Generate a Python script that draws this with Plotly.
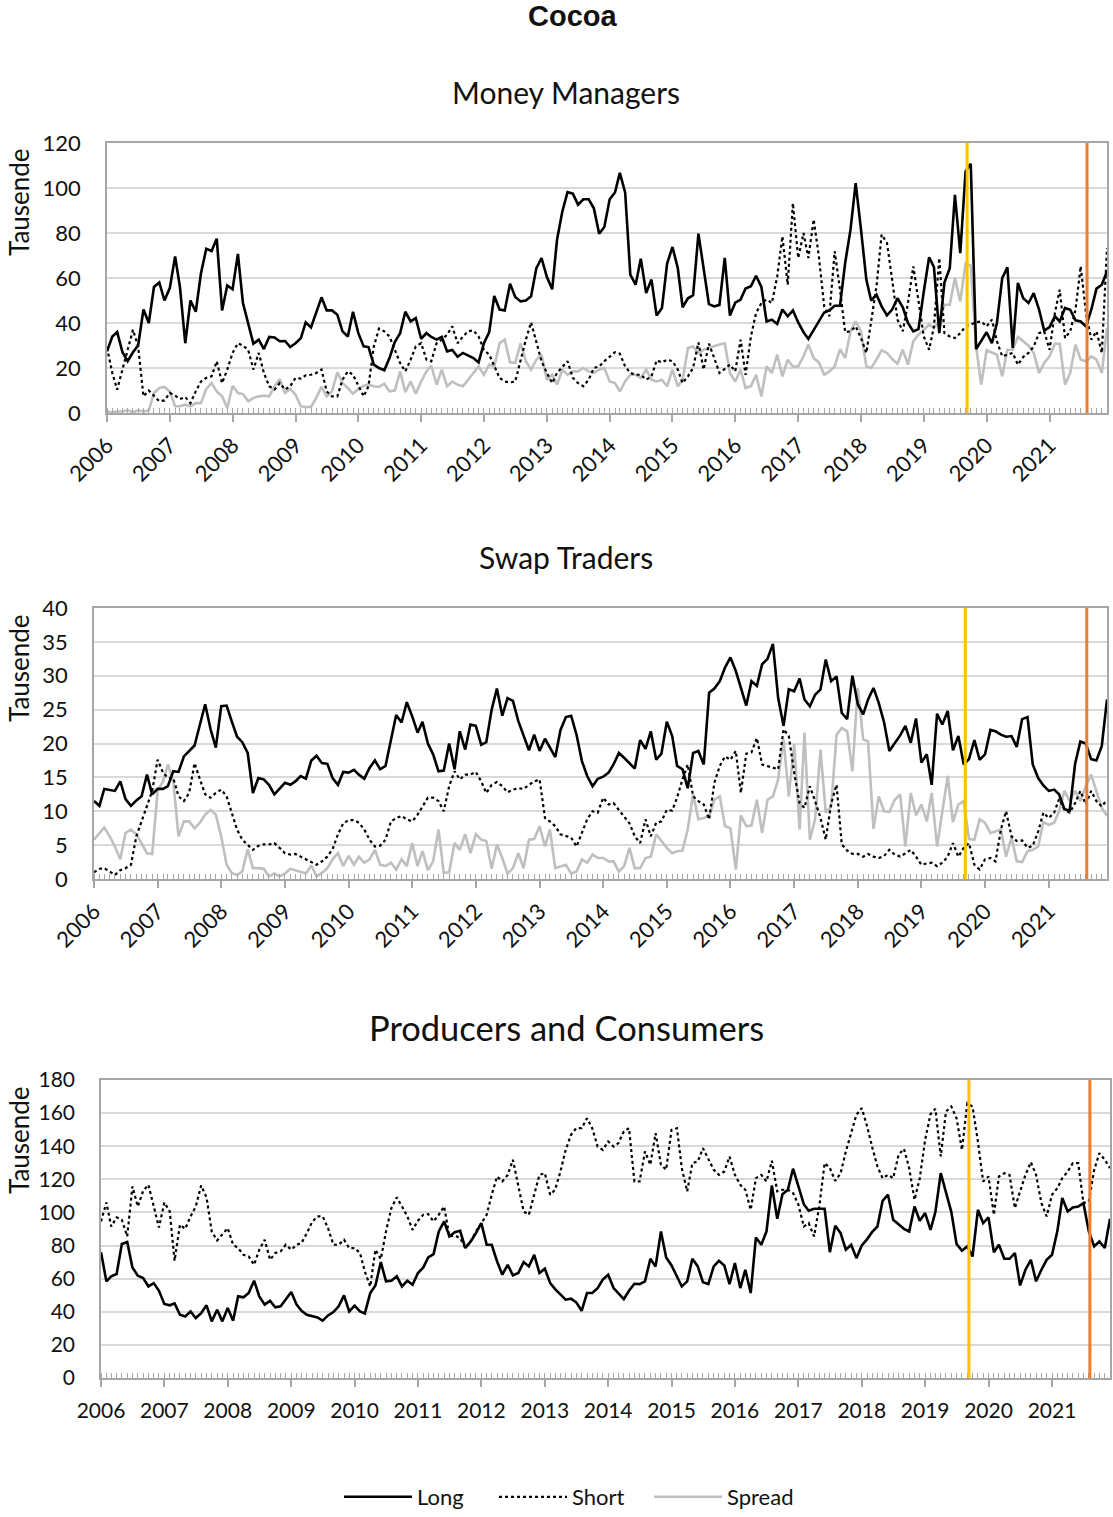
import pandas as pd
import plotly.graph_objects as go

# ---------------- data (monthly, Jan 2006 - Dec 2021), thousands of contracts ----------------
months = pd.date_range("2006-01-01", periods=192, freq="MS")

mm_long = [27.4,34,36,27,23,27,30,46,40,56, 58,50,55.5,69.6,56,31,50,45,62,73,
           72,77.5,45.6,56.7,55,70.7,49,40,30.8,32.6, 28.4,33.8,33.6,31.9,32,29.3,31,33.3,40.3,38,
           44.4,51.4,45.6,45.6,43.7,36.3,34,45,35.5,29.6, 29.3,21.5,20,19,24.4,31.5,35.5,45,40.7,42.2,
           33,35.5,33.8,32.6,
           33.8,27.4,28,25,26.7,25.5,24.4,22.5,31,36, 52,46,45.6,57.5,51.6,49.6,50,51.9,64.4,68.9,
           60.4,55,77,89.6,98.2,97.5,92.6,95,95,91, 79.7,82.7,95,98,106.7,98,61.5,57,68.6,53.3,
           59.3,43.3,46.7,66.4,73.8,64.4,47,51,52.3,79.7, 63.7,48.4,47.4,48,68.9,43.3,49,50.4,55.3,56.3,
           61,56,40.7,
           41.5,39.6,46,43,45.6,40.3,35.9,32.9,37,41, 44.7,45.6,47.7,47.7,66.7,81.5,102.2,81.5,59.3,50,
           52.6,47.4,43.4,46,51,47,40,36.3,37.3,54, 69.2,64.9,35.5,58,64.4,97,71,107.4,110.8,28.4,
           31.9,35.9,31,40,60,64.7,28.9,57.8,51,48.9, 53.3,46,36.6,38.2,43,40.7,46.7,45.9,41.2,40.7,
           38.5,46,55.3,57,63]

mm_short = [29,17.8,10.4,19.3,29,37,29.6,7.4,10,7.4, 5.2,5.6,8.9,7.7,6.2,7.1,4.4,9.6,14,15.6,
            16.3,23,13.3,19.3,26.7,31,30,28,19.3,26.7, 17.8,11.9,10.4,13.3,10.4,11.9,15.6,15.3,16.7,17,
            17.8,19.3,9.6,7.4,7.4,14.8,18.5,17,11.9,7.4, 11.9,29.6,37.5,36.3,34,28,22.2,18.5,23.7,29.6,
            31,23.7,23,31,
            32.6,34.8,38.5,31,34,36.3,36.7,34,28.1,25.9, 20.7,15.6,14,13.6,14,23.7,32.6,40.3,31,23,
            17.8,13.3,17.8,20.7,23,15.6,13.3,11.9,14.8,20, 20.7,23,25.2,27,26.4,20.7,17.8,17,17,14.8,
            16.3,23.4,22.5,23.7,23,19.3,13.3,16.3,20,31.4, 19.3,30.8,24.4,17.8,19.6,21.5,18.5,32.6,17,34,
            44.4,48.9,50.4,
            48.9,60.7,78.5,57,93.3,68.9,80,68.9,86,69.6, 47.4,43,71.9,54.8,35.9,36.3,38.5,33.3,26.7,40.7,
            56.3,79.3,75.6,59.3,41.5,36.3,48.9,65.2,48.9,34, 28.1,38.5,68.9,35.5,34,33.3,35.5,38.5,39.3,40.3,
            40.7,38.5,41.5,31.9,25.2,25.9,26.7,21.5,24.9,26.7, 29.6,35.5,36.3,28.1,44.4,54.8,33.3,36.3,45.9,65.2,
            44.4,32.6,36.3,26.7,73.3]

mm_spread = [0.7,0.3,0.7,0.7,1.2,0.3,1.2,0.7,1.2,8.9, 11.1,11.6,9.6,3,3,3.7,3,4.4,4.4,10.7,
             13.3,9.6,7.4,2.2,12.1,8.9,8.4,5.2,6.7,7.4, 7.7,7.4,11.9,15.1,8.9,10.7,8.1,3,2.7,2.7,
             6.7,11.6,7.4,9.6,18.1,13.3,11.1,8.6,10.7,12.1, 12.6,11.9,11.6,13,9.6,10,18.5,9.3,14,8.6,
             14,18.5,21,12.6,
             19.3,11.9,14,12.6,11.9,14.8,17.8,20.7,17,21.5, 20.7,31,32.6,22.5,22.2,31,23,19.3,23.7,25.9,
             14.8,17,12.6,19.3,17,18.5,18.5,20,18.5,17.8, 19.3,20,14,13.3,9.6,14,17,17,15.6,19.3,
             14.8,14,14.8,11.9,19.3,11.9,14.8,28.9,29.6,26.7, 28.1,28.9,29.9,30.4,31,17.8,14,19.3,11.1,11.9,
             17,7.4,20.7,
             17.8,25.9,16.3,23.7,20.7,20.7,25.2,30.4,24.4,22.5, 17,18.5,20.7,28.4,24.4,36.3,40.7,36.3,20.7,20,
             23.7,27.9,26.7,24,21.9,28.1,21.5,31.9,34.8,37, 39.3,37.8,40.7,48.1,48.1,60,49.6,66.4,65.5,29.6,
             12.6,27.9,27,25.9,16.3,28.1,28.1,33.8,31.9,29.9, 26.7,17.8,22.2,25.2,30.8,30.8,12.6,17.8,30.4,23.7,
             23,25.2,23.7,17.8,37.8]

st_long = [11.5,10.8,13.3,13.1,13,14.4,11.8,10.8,11.6,12.2, 15.4,12.5,13.3,13.3,13.7,15.9,15.8,18.1,18.9,19.7,
           22.8,25.8,22.1,19.4,25.5,25.6,23.3,21,20.2,18.6, 12.7,14.9,14.7,13.9,12.5,13.4,14.2,13.9,14.4,15.2,
           14.8,17.5,18.2,17.1,17,14.9,13.9,15.8,15.7,16.1, 15.4,14.8,16.4,17.5,16.2,16.7,20.3,24.2,23.1,26.1,
           24,21.6,23.2,20,
           18.4,15.9,16,20,16.2,21.8,19.1,22.8,22.6,19.8, 20.2,25,28.1,24.1,26.7,26.3,23.3,21.1,19,21.3,
           18.9,20.7,19.4,18,22,23.9,24.1,21.3,17.4,15.2, 13.7,14.8,15.1,15.7,16.9,18.6,17.9,17,16.3,20.5,
           19.2,21.8,17.6,18.5,23.2,21.1,16.7,16.2,13.4,18.6, 18.9,16.9,27.5,28.1,29.2,31.2,32.7,30.7,28.2,25.6,
           29.2,28.5,31.7,
           32.5,34.7,26.7,22.6,28,27.7,29.6,26.5,25.5,27.2, 28,32.4,29.2,29.9,24.5,23.6,30,25.8,24.3,26.5,
           28.2,26,23.1,18.9,20.1,21.2,22.6,20.1,23.7,17.2, 18.4,13.9,24.4,22.8,24.8,19,21.1,16.9,17.7,20.5,
           17.6,18.4,22,21.8,21.3,21,21.1,19.5,23.6,23.9, 16.9,14.9,13.8,13,13.2,12.5,10.3,10.1,17,20.3,
           20,17.7,17.5,19.6,26.5]

st_short = [1,1.5,1.6,1.1,0.6,1.3,1.6,2.1,6.3,8.5, 10.7,13,17.6,15.7,14.9,14.9,12.2,11.5,12.7,17.1,
            14.7,12.5,12,12.7,13.2,12.2,9.8,7.3,5.8,5.1, 4.3,4.9,5.1,5.1,5.3,4.6,3.8,3.6,3.7,3.3,
            2.9,2.4,2.1,2.6,3.3,4.4,6.6,8.2,8.7,8.7, 8.3,7.3,5.8,4.8,4.9,5.8,8.5,9,9.3,8.8,
            8.5,9.5,10.7,12,
            12,11.5,10,13.7,15.9,14.7,15.4,15.4,15.8,14.4, 12.7,13.9,14.3,13.7,12.8,13.2,13.4,13.3,13.9,14.4,
            14.7,9,8.5,7.8,6.6,6.3,6.1,4.8,6.8,8.8, 10,9.8,12,11,11.2,10.2,9.3,8.2,6.3,5.3,
            8.8,6.3,8.3,8.5,10.2,10.1,12,14.7,16.9,12.2, 11.5,11,8.8,14.2,16.7,18.1,17.6,18.9,12.7,18.5,
            18.7,20.8,16.9,
            16.7,16.4,16.2,22.1,21.1,15.7,11.2,10.5,13.7,11.5, 9,5.8,11.1,13.9,5.1,4.2,3.7,3.7,3.3,3.7,
            3.3,3.1,3.4,4.3,3.6,3.3,3.8,4.3,3.3,2.1, 2.3,2.4,1.9,2.4,3.3,5.3,3.3,4.6,5.3,2.1,
            1.4,2.9,3.1,2.6,7.3,10,6.3,5.6,5.7,4.6, 4.9,7,9.8,9,9.8,11.8,10.2,9.8,11.2,13,
            11,13,11.5,10.7,11.7]

st_spread = [5.8,6.8,7.6,6.3,4.8,2.9,6.8,7.3,6.6,5.3, 3.8,3.7,13,14.4,16.9,14.4,6.3,8.5,8.5,7.5,
             8.3,9.5,10.2,9.5,6.3,2.1,0.9,0.6,1.1,4.4, 1.6,1.6,1.5,0.4,0.8,0.4,0.8,1.5,1.3,1,
             0.8,2,0.4,0.9,1.6,2.9,3.8,1.9,3.4,2.1, 3.3,2.4,2.9,4.3,2.1,1.9,2.4,1.4,2.9,1.9,
             5.3,1.9,4.1,1.3,
             2.6,7.3,0.9,1,5.3,4.3,6.6,3.8,6.6,5.8, 5.6,1.5,5.1,3.1,0.8,1.6,3.8,1.6,5.8,5.9,
             7.8,4.8,7.3,1.6,1.9,2.1,0.8,1.1,2.9,2.4, 3.6,3.1,3.1,2.6,2.6,1.1,1.9,4.6,1.6,1.6,
             3.1,3.3,6.6,5.6,4.6,3.8,4.1,4.2,7.3,12.5, 8.8,9,9.3,11.7,12.2,7.8,7.5,1.4,9.4,7.8,
             7.9,11.7,6.8,
             11.7,12.2,14.7,20.6,12.2,19.9,7.3,21.6,5.8,8.8, 19.1,9.8,10.7,21.3,22.3,21.8,15.9,28.2,20.6,20.3,
             7.4,12.2,10,9.9,11.7,12.5,4.8,12.7,9.4,11, 8.5,12.7,4.8,10.2,15.2,8.4,11,11.5,5.9,5.8,
             8.8,8.3,6.8,7,7.3,3.3,6.2,2.6,2.5,4.1, 4.3,4.8,8.4,8,8.3,10,13,11.5,13,11.5,
             13.7,15.4,13,10.5,9.3]

pc_long = [76,58.4,61.4,62.8,80.9,82.1,66.8,61.8,60.4,55.3, 57.3,52.7,44.7,43.9,45.1,38.2,37.2,40.2,36.2,39.2,
           43.9,34.2,41.2,34.2,42.3,34.6,49.3,48.7,51.3,58.8, 49.3,44.3,46.7,42.7,43.3,47.9,51.9,44.3,40.6,38.2,
           37.2,36.6,34.6,37.8,39.8,43.3,49.9,40.2,43.7,40.2, 39,51.3,55.9,70,58.4,58.8,61.4,55.3,58.8,56.3,
           63.4,66.8,72.8,74.8,
           88.5,94.6,85.5,88.1,88.9,78.5,82.5,87.5,93.6,80.5, 80.5,70.4,62.4,68.4,62,63.4,70,67.4,74.4,63.4,
           66,57.3,53.7,50.3,47.3,47.9,45.7,40.6,51.3,51.3, 54.3,59.4,62.4,54.3,51.3,47.7,52.7,56.9,56.7,58.4,
           72,67.4,88.5,72.8,68,61.4,55.3,58.4,72,67.4, 57.9,56.7,67.4,70.8,68,56.7,69.4,54.3,65.4,51.3,
           84.9,80.5,88.5,
           116.3,96.2,111,113.7,126.4,115.7,105,101,102.2,102.2, 102.2,76,92,87.5,77.5,80.5,72.4,80.1,83.9,88.1,
           91.5,107,110.7,95.6,92.6,90.1,88.5,103.6,95,99.6, 89.5,100.2,123.7,111.7,100.2,80.9,76.9,79.5,73.4,101.6,
           93.6,97,75.9,80.5,72,72,75.5,55.9,65.4,71.4, 58.4,65.4,71.4,74.4,88.9,108.7,100.6,103,103.6,105.6,
           88.5,79.5,82.5,78.5,96.2]

pc_short = [94.6,106,91.5,97,95.6,85.5,115.7,103.6,113.1,116.7, 103.6,90.9,106,100.6,70.8,92.6,90.1,97.6,103.6,116.3,
            109.1,88.5,83.1,86.9,90.5,80.5,78.5,74.4,73.4,68.4, 77.5,83.5,71.4,75.5,76.5,80.5,77.5,80.5,81.5,87.5,
            94.2,97.6,97.6,90.5,80.5,80.5,83.5,78.5,78.5,75.5, 64.4,55.3,77.5,71.8,88.5,102.6,109.1,103.6,97.6,89.5,
            95,98.6,99,94.6,
            98.6,103.6,85.5,86.1,84.5,78.5,82.5,88.5,93.6,98.6, 110.7,121.7,118.7,122.7,131.8,116.7,100.6,98.6,111.7,122.7,
            123.7,110.7,113.7,124.7,137.8,146.9,150.9,150.9,156.9,150.9, 139.8,137.8,142.9,139.8,141.9,148.9,150.9,118.7,118.7,136.8,
            128.8,147.9,128.8,125.8,149.9,150.9,126.8,112.7,129.8,130.8, 138.8,131.8,125.8,122.7,124.7,133.8,122.7,116.7,113.7,101.6,
            120.7,122.7,118.7,
            131.2,112.7,113.7,113.7,111.7,104.6,91.5,93.6,85.5,103.6, 129.8,126.8,119.1,123.7,136.8,147.9,159,163,151.9,139.8,
            127.8,120.7,122.7,120.7,134.8,138.4,126.8,107.6,120.7,143.9, 159.4,162.6,133.8,161,164,156.9,137.8,166,164,142.9,
            118.7,121.7,98.6,121.7,123.7,122.7,102.6,112.7,122.7,130.4, 122.7,105.6,97.6,110.7,114.7,120.7,124.7,129.8,129.8,105.6,
            106.6,125.8,135.8,131.8,126.8]

series_names = ["Long", "Short", "Spread"]
panel_titles = ["Money Managers", "Swap Traders", "Producers and Consumers"]
y_max = [120, 40, 180]
y_step = [20, 5, 20]
marker_dates = ["2019-09-10", "2021-08-07"]
marker_colors = ["#FFC000", "#ED7D31"]

# ---------------- figure ----------------
W, H = 1113, 1517
FONT = "Lato, Open Sans, sans-serif"
TXT = "#111111"
AXC = "#a6a6a6"
GRID = "#d9d9d9"

def px_x(p):
    return p / W

def px_y(p):
    return 1 - p / H

# plot areas in pixels (left, right, top, bottom)
areas = [(107, 1107, 143, 413), (94, 1107, 608, 879), (101, 1110, 1080, 1378)]

styles = {
    "Long": dict(color="black", width=2.6, dash="solid"),
    "Short": dict(color="black", width=2.2, dash="dot"),
    "Spread": dict(color="#bfbfbf", width=2.6, dash="solid"),
}

data_panels = [
    {"Long": mm_long, "Short": mm_short, "Spread": mm_spread},
    {"Long": st_long, "Short": st_short, "Spread": st_spread},
    {"Long": pc_long, "Short": pc_short},
]

fig = go.Figure()
draw_order = ["Spread", "Short", "Long"]
for k, panel in enumerate(data_panels):
    xa = "x" if k == 0 else f"x{k+1}"
    ya = "y" if k == 0 else f"y{k+1}"
    for name in draw_order:
        if name not in panel:
            continue
        fig.add_trace(go.Scatter(
            x=months, y=panel[name], mode="lines", name=name,
            line=styles[name], xaxis=xa, yaxis=ya,
            showlegend=(k == 0), legendrank={"Long": 1, "Short": 2, "Spread": 3}[name],
        ))

layout = dict(
    template="none",
    width=W, height=H, margin=dict(l=0, r=0, t=0, b=0, pad=0, autoexpand=False),
    paper_bgcolor="white", plot_bgcolor="white",
    font=dict(family=FONT, color=TXT, size=22),
    legend=dict(orientation="h", x=px_x(339), xanchor="left", y=px_y(1497), yanchor="middle",
                font=dict(size=22, family=FONT, color=TXT), traceorder="normal",
                itemwidth=68, entrywidth=72, entrywidthmode="pixels",
                bgcolor="rgba(0,0,0,0)"),
    showlegend=True,
)

annotations = []
shapes = []
for k, (l, r, t, b) in enumerate(areas):
    xk = "xaxis" if k == 0 else f"xaxis{k+1}"
    yk = "yaxis" if k == 0 else f"yaxis{k+1}"
    last = k == 2
    layout[xk] = dict(
        domain=[px_x(l), px_x(r)], anchor="y" if k == 0 else f"y{k+1}",
        type="date", range=[months[0], months[-1]], automargin=False,
        tick0="2006-01-01", dtick="M12", tickformat="%Y",
        ticks="outside", ticklen=7, tickwidth=1.5, tickcolor=AXC,
        minor=dict(ticks="inside", ticklen=5, dtick="M1", tickcolor=AXC, tickwidth=1, showgrid=False),
        showline=True, linecolor=AXC, linewidth=1.5, mirror=True,
        showgrid=False, zeroline=False,
        tickangle=0 if last else -45,
        tickfont=dict(size=21 if last else 22, family=FONT, color=TXT),
        ticklabelstandoff=6 if last else 2,
        fixedrange=True,
    )
    layout[yk] = dict(
        domain=[px_y(b), px_y(t)], anchor="x" if k == 0 else f"x{k+1}",
        range=[0, y_max[k]], dtick=y_step[k], tick0=0, automargin=False,
        showgrid=True, gridcolor=GRID, gridwidth=1.5,
        showline=True, linecolor=AXC, linewidth=1.5, mirror=True,
        ticks="", zeroline=False,
        tickfont=dict(size=21 if last else 22, family=FONT, color=TXT),
        ticklabelstandoff=20,
        fixedrange=True,
    )
    xref = "x" if k == 0 else f"x{k+1}"
    yref = "y domain" if k == 0 else f"y{k+1} domain"
    for d, c in zip(marker_dates, marker_colors):
        shapes.append(dict(type="line", xref=xref, yref=yref, x0=d, x1=d, y0=0, y1=1,
                           line=dict(color=c, width=3)))

# panel titles
title_pos = [(566, 92, 30), (566, 557, 30), (566, 1027, 34.5)]
for (cx, cy, fs), txt in zip(title_pos, panel_titles):
    annotations.append(dict(text=txt, x=px_x(cx), y=px_y(cy), xref="paper", yref="paper",
                            xanchor="center", yanchor="middle", showarrow=False,
                            font=dict(size=fs, family=FONT, color=TXT)))

# y-axis titles
for cy in [202, 668, 1140]:
    annotations.append(dict(text="Tausende", x=px_x(19), y=px_y(cy), xref="paper", yref="paper",
                            xanchor="center", yanchor="middle", showarrow=False, textangle=-90,
                            font=dict(size=26, family=FONT, color=TXT)))

# main title
annotations.append(dict(text="<b>Cocoa</b>", x=px_x(573), y=px_y(16), xref="paper", yref="paper",
                        xanchor="center", yanchor="middle", showarrow=False,
                        font=dict(size=29, family="Liberation Sans, Arial, sans-serif", color=TXT)))

layout["annotations"] = annotations
layout["shapes"] = shapes
fig.update_layout(**layout)

fig.write_html(
    "out.html",
    config={"displayModeBar": False},
    post_script="document.body.style.margin='0px';document.body.style.padding='0px';"
                "document.body.style.overflow='hidden';",
)
